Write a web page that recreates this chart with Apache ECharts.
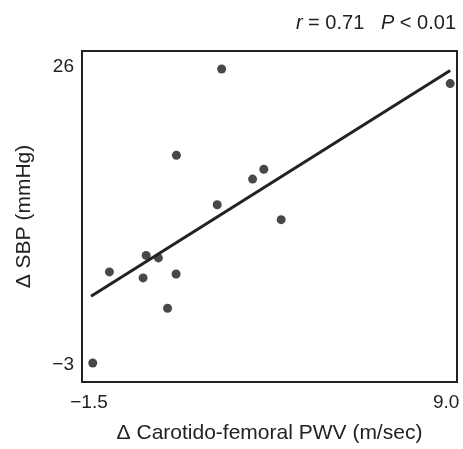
<!DOCTYPE html>
<html>
<head>
<meta charset="utf-8">
<script src="https://cdn.jsdelivr.net/npm/echarts@6/dist/echarts.min.js"></script>
<style>
html,body{margin:0;padding:0;background:#fff;}
#chart{width:463px;height:449px;}
</style>
</head>
<body>
<div id="chart"></div>
<script>
// Δ Carotido-femoral PWV (m/sec)
const pwvChange = [2.40, 9.12, 1.07, 3.64, 3.31, 2.27, 4.15, 0.18, 0.54, -0.90, 1.06, 0.09, 0.81, -1.39];
// Δ SBP (mmHg)
const sbpChange = [25.81, 24.39, 17.40, 16.03, 15.07, 12.57, 11.11, 7.62, 7.38, 6.01, 5.81, 5.43, 2.47, -2.88];
// regression line end points
const fitX = [-1.44, 9.12];
const fitY = [3.64, 25.67];
const xTicks = [-1.5, 9.0];
const yTicks = [-3, 26];

const points = pwvChange.map((x, i) => [x, sbpChange[i]]);
const fitLine = fitX.map((x, i) => [x, fitY[i]]);
const fmtNum = (v, d) => (v < 0 ? '\u2212' : '') + Math.abs(v).toFixed(d);
const font = 'Liberation Sans, Arial, Helvetica, sans-serif';
const ink = '#222';

const chart = echarts.init(document.getElementById('chart'), null, {renderer: 'canvas'});
chart.setOption({
  animation: false,
  backgroundColor: '#fff',
  title: {
    text: '{i|r} = 0.71   {i|P} < 0.01',
    right: 2,
    top: 8,
    textStyle: {
      fontFamily: font, fontSize: 20, color: ink, fontWeight: 'normal',
      rich: { i: { fontStyle: 'italic', fontFamily: font, fontSize: 20, color: ink } }
    }
  },
  grid: {
    left: 82, right: 6, top: 51, bottom: 62,
    show: true, borderColor: ink, borderWidth: 2, backgroundColor: 'transparent'
  },
  xAxis: {
    type: 'value',
    min: -1.706, max: 9.32,
    axisLine: {show: false},
    axisTick: {show: false},
    splitLine: {show: false},
    axisLabel: {
      customValues: xTicks,
      formatter: v => fmtNum(v, 1),
      fontFamily: font, fontSize: 19, color: ink, margin: 11
    },
    name: '\u0394 Carotido-femoral PWV (m/sec)',
    nameLocation: 'middle',
    nameGap: 41,
    nameTextStyle: {fontFamily: font, fontSize: 21, color: ink}
  },
  yAxis: {
    type: 'value',
    min: -4.73, max: 27.57,
    axisLine: {show: false},
    axisTick: {show: false},
    splitLine: {show: false},
    axisLabel: {
      customValues: yTicks,
      formatter: v => fmtNum(v, 0),
      fontFamily: font, fontSize: 19, color: ink, margin: 8
    },
    name: '\u0394 SBP (mmHg)',
    nameLocation: 'middle',
    nameGap: 47,
    nameTextStyle: {fontFamily: font, fontSize: 21, color: ink}
  },
  series: [
    {
      type: 'line',
      data: fitLine,
      symbol: 'none',
      lineStyle: {color: ink, width: 3},
      silent: true
    },
    {
      type: 'scatter',
      data: points,
      symbol: 'circle',
      symbolSize: 9,
      itemStyle: {color: '#1a1a1a'}
    }
  ]
});
</script>
</body>
</html>
